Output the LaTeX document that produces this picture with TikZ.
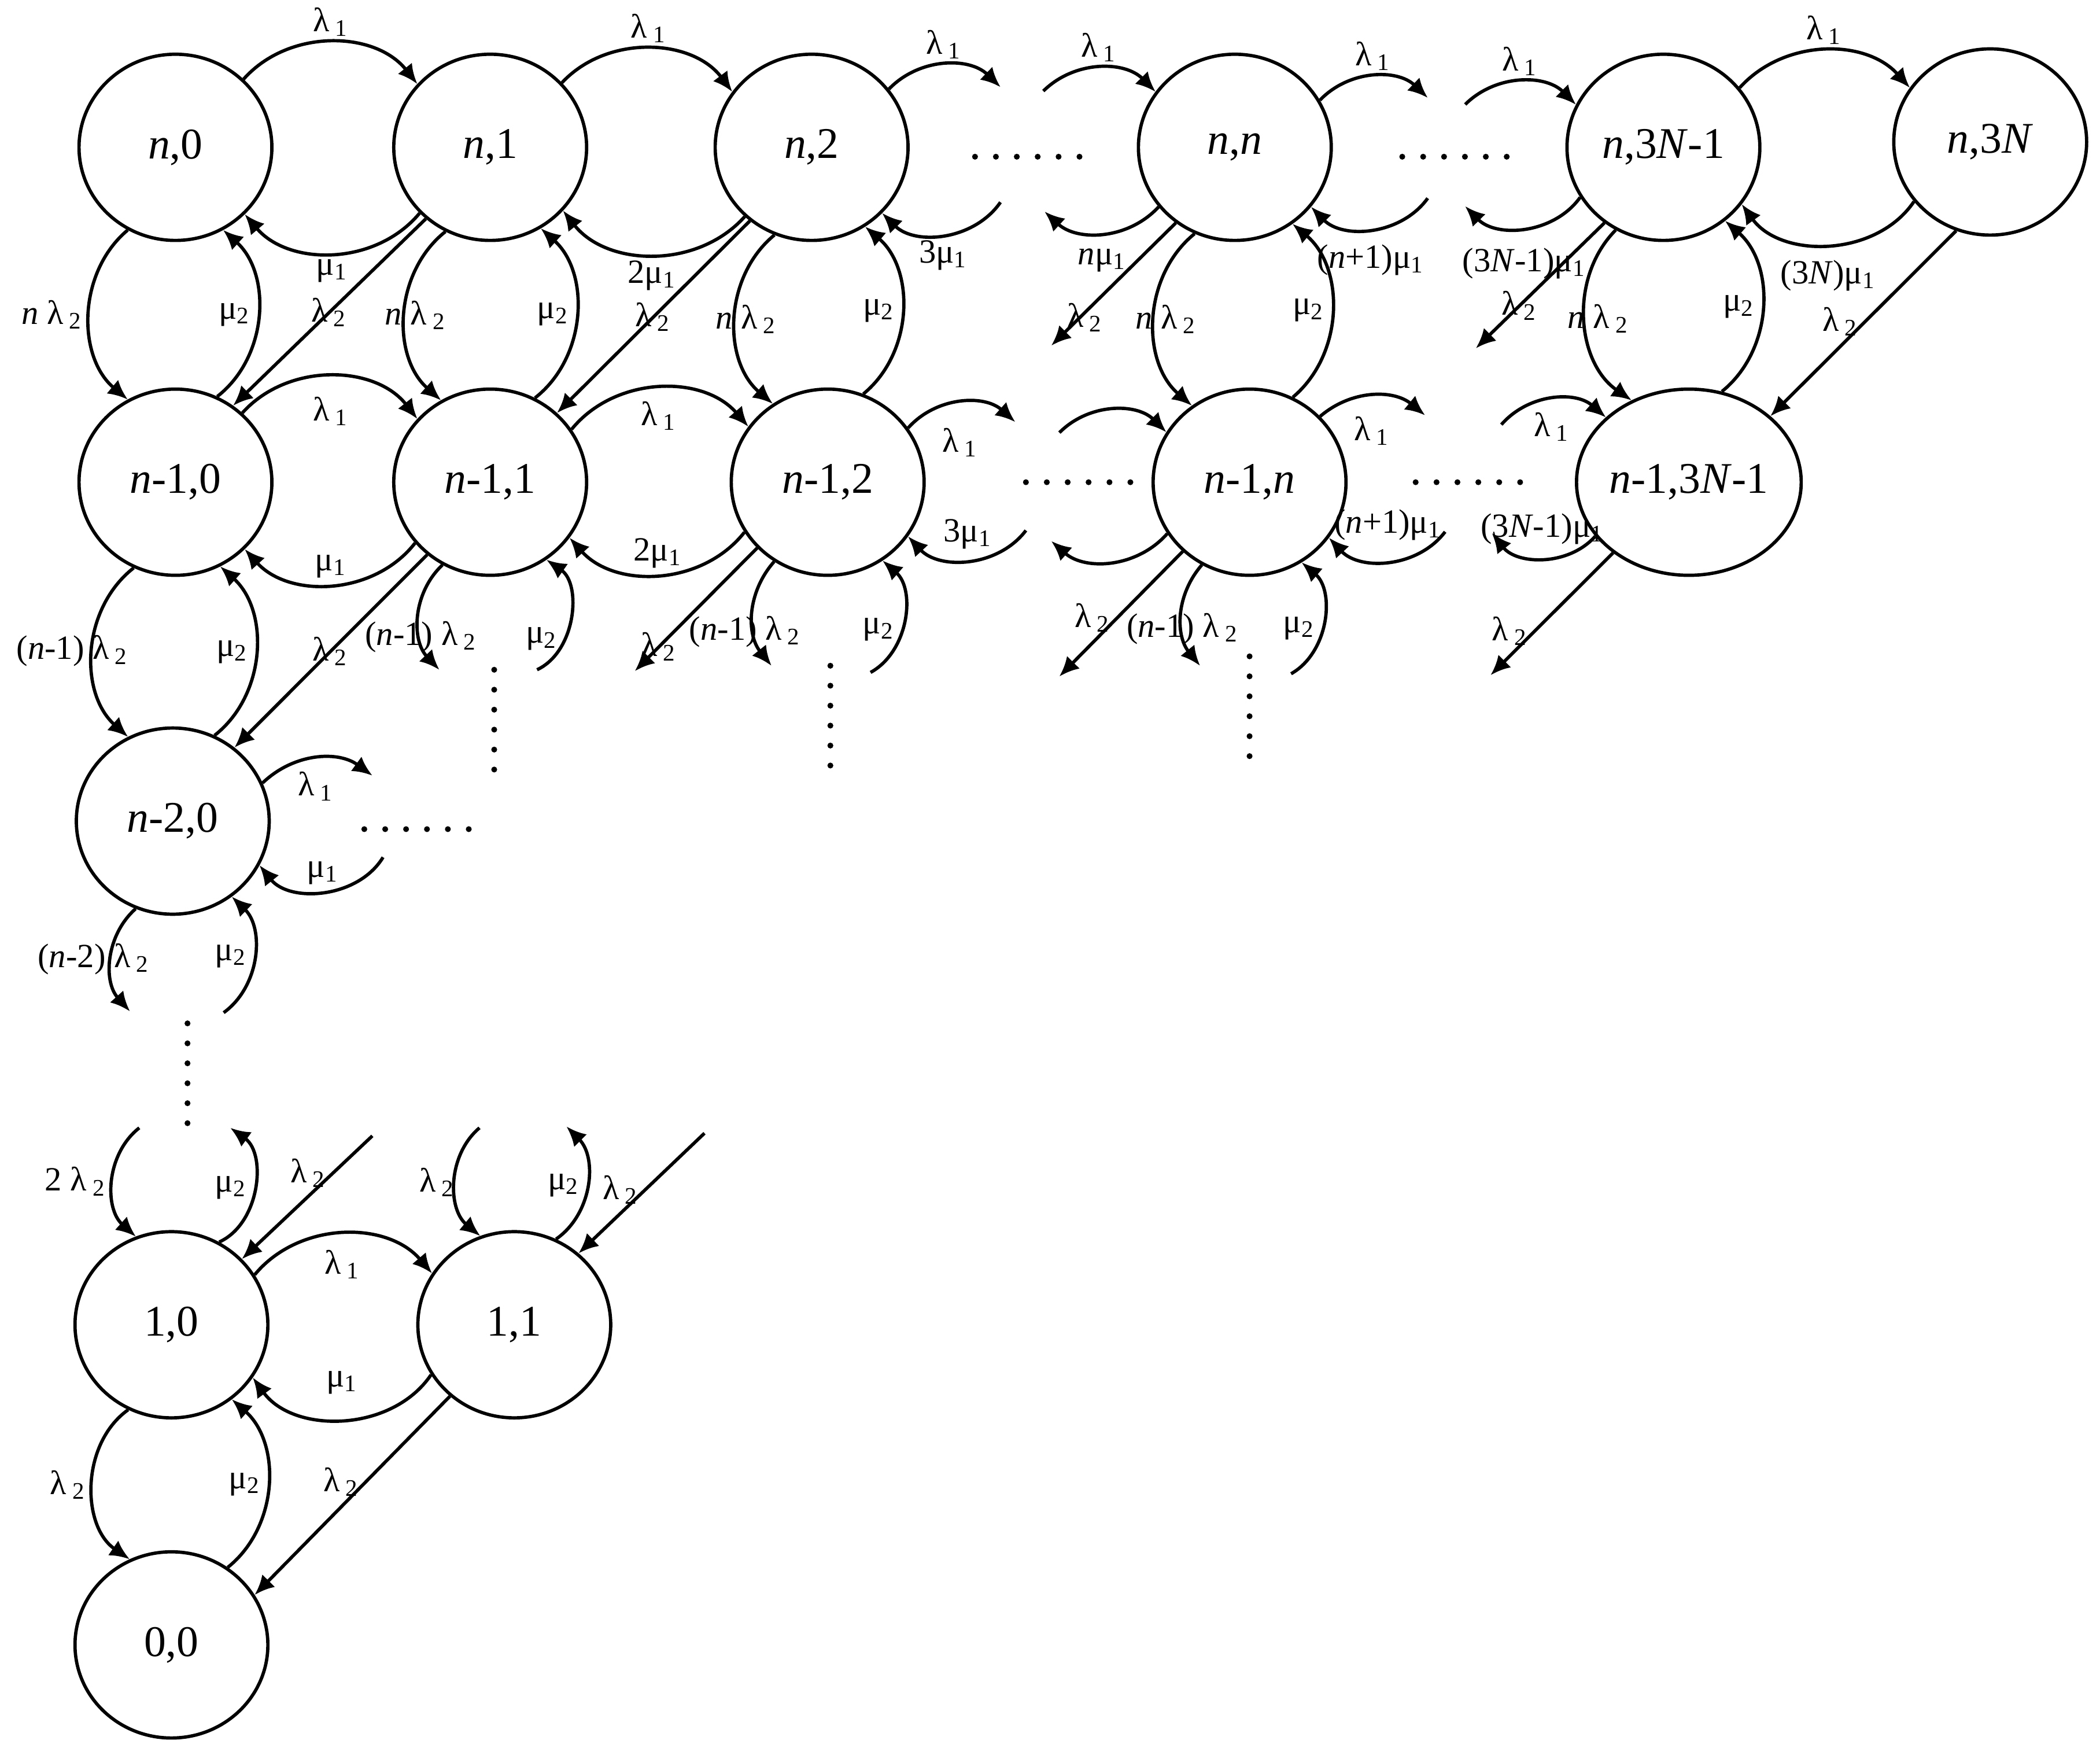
\documentclass[tikz,border=0pt]{standalone}
\usepackage{fontspec}
\setmainfont{Liberation Serif}
\usetikzlibrary{shapes.geometric,arrows.meta}

\newcommand{\lsub}[1]{λ\,\textsubscript{#1}}
\newcommand{\msub}[1]{μ\textsubscript{#1}}

\tikzset{
  stnode/.style={draw,ellipse,line width=0.7pt,minimum width=1.44cm,minimum height=1.39cm,inner sep=0pt,font=\fontsize{9.3}{11}\selectfont},
  arr/.style={line width=0.7pt,-{Latex[length=4.2pt,width=3.8pt]}},
  lab/.style={font=\fontsize{7.2}{8.5}\selectfont,inner sep=1pt}
}

\begin{document}
\begin{tikzpicture}
\useasboundingbox (0,0) rectangle (15.68,13.10);

\node[stnode] (n0) at (1.31,12.00) {\textit{n},0};
\node[stnode] (n1) at (3.66,12.00) {\textit{n},1};
\node[stnode] (n2) at (6.06,12.00) {\textit{n},2};
\node[stnode] (nn) at (9.22,12.00) {\textit{n},\textit{n}};
\node[stnode] (nA) at (12.42,12.00) {\textit{n},3\textit{N}-1};
\node[stnode] (nB) at (14.86,12.04) {\textit{n},3\textit{N}};
\node[stnode] (m0) at (1.31,9.50) {\textit{n}-1,0};
\node[stnode] (m1) at (3.66,9.50) {\textit{n}-1,1};
\node[stnode] (m2) at (6.18,9.50) {\textit{n}-1,2};
\node[stnode] (mn) at (9.33,9.50) {\textit{n}-1,\textit{n}};
\node[stnode] (mA) at (12.61,9.50) {\textit{n}-1,3\textit{N}-1};
\node[stnode] (k0) at (1.29,6.97) {\textit{n}-2,0};
\node[stnode] (p0) at (1.28,3.21) {1,0};
\node[stnode] (p1) at (3.84,3.21) {1,1};
\node[stnode] (z0) at (1.28,0.82) {0,0};

% free ends
\coordinate (a1) at (7.47,12.45);
\coordinate (a2) at (7.47,11.59);
\coordinate (a3) at (7.79,12.42);
\coordinate (a4) at (7.80,11.52);
\coordinate (a5) at (7.85,10.52);
\coordinate (a6) at (10.66,12.37);
\coordinate (a7) at (10.66,11.62);
\coordinate (a8) at (10.94,12.32);
\coordinate (a9) at (10.94,11.56);
\coordinate (a10) at (11.02,10.50);
\coordinate (b1) at (7.58,9.95);
\coordinate (b2) at (7.66,9.14);
\coordinate (b3) at (7.91,9.87);
\coordinate (b4) at (7.85,9.06);
\coordinate (b5) at (10.64,10.00);
\coordinate (b6) at (10.79,9.13);
\coordinate (b7) at (11.21,9.93);
\coordinate (b8) at (11.14,9.12);
\coordinate (c1) at (3.28,8.10);
\coordinate (c2) at (4.01,8.10);
\coordinate (c3) at (4.74,8.09);
\coordinate (c4) at (5.76,8.13);
\coordinate (c5) at (6.50,8.08);
\coordinate (c6) at (7.91,8.05);
\coordinate (c7) at (8.96,8.13);
\coordinate (c8) at (9.64,8.07);
\coordinate (c9) at (11.13,8.06);
\coordinate (d1) at (2.78,7.31);
\coordinate (d2) at (2.86,6.70);
\coordinate (d3) at (0.97,5.55);
\coordinate (d4) at (1.67,5.54);
\coordinate (e1) at (1.04,4.68);
\coordinate (e2) at (1.72,4.68);
\coordinate (e3) at (2.78,4.62);
\coordinate (e4) at (3.58,4.68);
\coordinate (e5) at (4.23,4.69);
\coordinate (e6) at (5.26,4.64);

% dots
\foreach \px/\py in {7.28/11.93, 10.47/11.93, 7.66/9.50, 10.57/9.50, 2.72/6.91}
  {\foreach \i in {0,...,5} {\fill (\px+\i*0.156,\py) circle (0.022);}}
\foreach \px/\py in {3.69/8.10, 6.20/8.13, 9.33/8.20, 1.40/5.46}
  {\foreach \i in {0,...,5} {\fill (\px,\py-\i*0.149) circle (0.022);}}

% row n
\draw[arr] (n0.45) to[bend left=50] node[lab,above]{\lsub{1}} (n1.139);
\draw[arr] (n1.223) to[bend left=50] node[lab,below]{\msub{1}} (n0.316);
\draw[arr] (n1.42) to[bend left=50] node[lab,above]{\lsub{1}} (n2.145);
\draw[arr] (n2.226) to[bend left=50] node[lab,below]{2\msub{1}} (n1.319);
\draw[arr] (n2.37) to[bend left=45] node[lab,above]{\lsub{1}} (a1);
\draw[arr] (a2) to[bend left=50] node[lab,below]{3\msub{1}} (n2.317);
\draw[arr] (a3) to[bend left=45] node[lab,above]{\lsub{1}} (nn.145);
\draw[arr] (nn.218) to[bend left=45] node[lab,below=2pt]{\textit{n}\msub{1}} (a4);
\draw[arr] (nn.29) to[bend left=45] node[lab,above]{\lsub{1}} (a6);
\draw[arr] (a7) to[bend left=50] node[lab,below=2pt]{(\textit{n}+1)\msub{1}} (nn.322);
\draw[arr] (a8) to[bend left=45] node[lab,above]{\lsub{1}} (nA.154);
\draw[arr] (nA.211) to[bend left=50] node[lab,below=3pt]{(3\textit{N}-1)\msub{1}} (a9);
\draw[arr] (nA.38) to[bend left=48] node[lab,above]{\lsub{1}} (nB.146);
\draw[arr] (nB.218) to[bend left=55] node[lab,below=2pt]{(3\textit{N})\msub{1}} (nA.324);

\draw[arr] (n0.240) to[bend right=50] node[lab,left]{\textit{n} \lsub{2}} (m0.120);
\draw[arr] (m0.64) to[bend right=50] node[lab,left]{\msub{2}} (n0.300);
\draw[arr] (n1.242) to[bend right=50] node[lab,xshift=0.08cm]{\textit{n} \lsub{2}} (m1.121);
\draw[arr] (m1.62) to[bend right=50] node[lab,left]{\msub{2}} (n1.302);
\draw[arr] (n2.247) to[bend right=50] node[lab,xshift=0.08cm]{\textit{n} \lsub{2}} (m2.125);
\draw[arr] (m2.68) to[bend right=50] node[lab,left]{\msub{2}} (n2.304);
\draw[arr] (nn.245) to[bend right=50] node[lab,xshift=0.09cm]{\textit{n} \lsub{2}} (mn.127);
\draw[arr] (mn.63) to[bend right=50] node[lab,left]{\msub{2}} (nn.307);
\draw[arr] (nA.240) to[bend right=50] node[lab,xshift=0.1cm]{\textit{n} \lsub{2}} (mA.125);
\draw[arr] (mA.70) to[bend right=50] node[lab,left]{\msub{2}} (nA.310);

\draw[arr] (n1.228) -- node[lab]{\lsub{2}} (m0.53);
\draw[arr] (n2.230) -- node[lab]{\lsub{2}} (m1.46);
\draw[arr] (nn.232) -- node[lab,pos=0.77,xshift=0.04cm]{\lsub{2}} (a5);
\draw[arr] (nA.232) -- node[lab,pos=0.66]{\lsub{2}} (a10);
\draw[arr] (nB.249) -- node[lab,pos=0.49,left]{\lsub{2}} (mA.39);

% row n-1
\draw[arr] (m0.46) to[bend left=50] node[lab,below=3pt]{\lsub{1}} (m1.139);
\draw[arr] (m1.219) to[bend left=50] node[lab,above]{\msub{1}} (m0.316);
\draw[arr] (m1.33) to[bend left=50] node[lab,below=1.5pt]{\lsub{1}} (m2.145);
\draw[arr] (m2.211) to[bend left=50] node[lab,above]{2\msub{1}} (m1.325);
\draw[arr] (m2.34) to[bend left=45] node[lab,below=4pt]{\lsub{1}} (b1);
\draw[arr] (b2) to[bend left=50] node[lab,above=1pt]{3\msub{1}} (m2.326);
\draw[arr] (b3) to[bend left=45] (mn.149);
\draw[arr] (mn.212) to[bend left=45] (b4);
\draw[arr] (mn.43) to[bend left=40] node[lab,below=3pt]{\lsub{1}} (b5);
\draw[arr] (b6) to[bend left=50] node[lab,above=3pt]{(\textit{n}+1)\msub{1}} (mn.325);
\draw[arr] (b7) to[bend left=45] node[lab,below=1.5pt]{\lsub{1}} (mA.142);
\draw[arr] (mA.210) to[bend left=50] node[lab,above=1.5pt]{(3\textit{N}-1)\msub{1}} (b8);

\draw[arr] (m0.244) to[bend right=50] node[lab,xshift=-0.15cm]{(\textit{n}-1) \lsub{2}} (k0.118);
\draw[arr] (k0.64) to[bend right=50] node[lab,left]{\msub{2}} (m0.298);
\draw[arr] (m1.229) -- node[lab]{\lsub{2}} (k0.50);
\draw[arr] (m1.240) to[bend right=45] node[lab,pos=0.68]{(\textit{n}-1) \lsub{2}} (c1);
\draw[arr] (c2) to[bend right=60] node[lab,pos=0.33,left]{\msub{2}} (m1.306);
\draw[arr] (m2.223) -- node[lab,pos=0.8]{\lsub{2}} (c3);
\draw[arr] (m2.236) to[bend right=40] node[lab,pos=0.67,xshift=-0.07cm]{(\textit{n}-1) \lsub{2}} (c4);
\draw[arr] (c5) to[bend right=55] node[lab,pos=0.42,left]{\msub{2}} (m2.305);
\draw[arr] (mn.226) -- node[lab,pos=0.53,left]{\lsub{2}} (c6);
\draw[arr] (mn.240) to[bend right=40] node[lab,pos=0.63]{(\textit{n}-1) \lsub{2}} (c7);
\draw[arr] (c8) to[bend right=55] node[lab,pos=0.44,left]{\msub{2}} (mn.303);
\draw[arr] (mA.223) -- node[lab,pos=0.64,left]{\lsub{2}} (c9);

% row n-2
\draw[arr] (k0.23) to[bend left=40] node[lab,below=1.5pt]{\lsub{1}} (d1);
\draw[arr] (d2) to[bend left=55] node[lab,above]{\msub{1}} (k0.333);
\draw[arr] (k0.247) to[bend right=45] node[lab,xshift=-0.13cm]{(\textit{n}-2) \lsub{2}} (d3);
\draw[arr] (d4) to[bend right=50] node[lab,left]{\msub{2}} (k0.308);

% rows 1 and 0
\draw[arr] (e1) to[bend right=50] node[lab,left]{2 \lsub{2}} (p0.112);
\draw[arr] (p0.60) to[bend right=60] node[lab,left]{\msub{2}} (e2);
\draw[arr] (e3) -- node[lab,pos=0.3,left]{\lsub{2}} (p0.43);
\draw[arr] (p0.31) to[bend left=50] node[lab,below=2pt]{\lsub{1}} (p1.148);
\draw[arr] (p1.211) to[bend left=55] node[lab,above=4pt]{\msub{1}} (p0.327);
\draw[arr] (e4) to[bend right=50] node[lab,left,xshift=0.05cm]{\lsub{2}} (p1.111);
\draw[arr] (p1.64) to[bend right=50] node[lab,left]{\msub{2}} (e5);
\draw[arr] (e6) -- node[lab,pos=0.47,left]{\lsub{2}} (p1.48);
\draw[arr] (p0.243) to[bend right=55] node[lab,left]{\lsub{2}} (z0.116);
\draw[arr] (z0.54) to[bend right=50] node[lab,left]{\msub{2}} (p0.309);
\draw[arr] (p1.228) -- node[lab,pos=0.43,left]{\lsub{2}} (z0.31);
\end{tikzpicture}
\end{document}
